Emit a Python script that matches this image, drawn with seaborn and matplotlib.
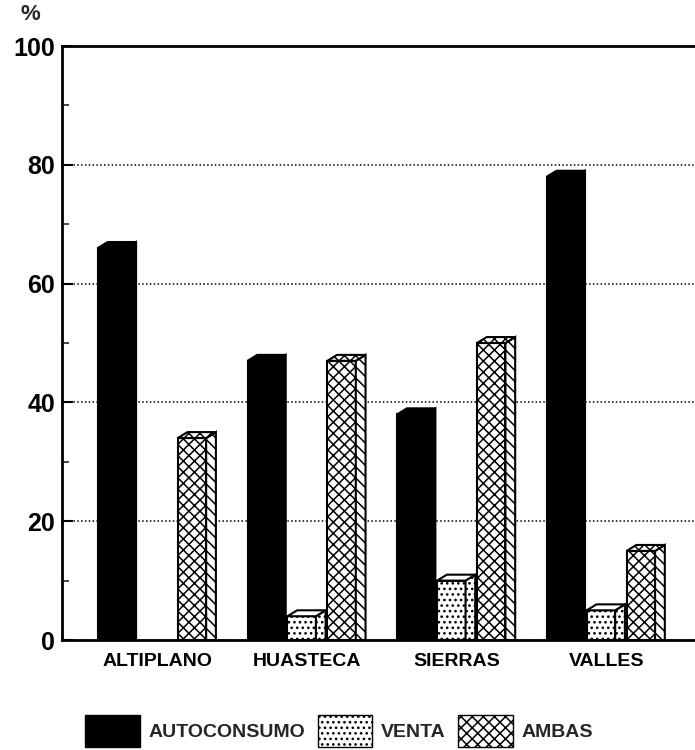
import matplotlib
matplotlib.use("Agg")
import matplotlib.pyplot as plt
import seaborn as sns
import pandas as pd
from matplotlib.patches import Polygon, Patch

regions = ["ALTIPLANO", "HUASTECA", "SIERRAS", "VALLES"]
series = ["AUTOCONSUMO", "VENTA", "AMBAS"]
autoconsumo = [66, 47, 38, 78]
venta = [0, 4, 10, 5]
ambas = [34, 47, 50, 15]
yticks = [0, 20, 40, 60, 80, 100]

sns.set_theme(style="white")
plt.rcParams["font.family"] = ["Liberation Sans", "DejaVu Sans"]
plt.rcParams["font.weight"] = "bold"
plt.rcParams["hatch.linewidth"] = 1.1
plt.rcParams["hatch.color"] = "black"

rows = []
for name, vals in zip(series, [autoconsumo, venta, ambas]):
    for r, v in zip(regions, vals):
        rows.append({"region": r, "tipo": name, "value": v})
df = pd.DataFrame(rows)

fig = plt.figure(figsize=(6.95, 7.5), dpi=100)
ax = fig.add_axes([62 / 695, 1 - 640 / 750, (695 - 62) / 695, (640 - 46) / 750])

sns.barplot(data=df, x="region", y="value", hue="tipo", order=regions,
            hue_order=series, palette=["black", "white", "white"],
            saturation=1, width=0.8, edgecolor="black", linewidth=1.5,
            legend=False, ax=ax, zorder=2)

front_hatch = [None, "...", "xxx"]
side_hatch = [None, "...", "\\\\\\"]
front_w = 0.19
dx = 0.065
dy = 1.0
for i, cont in enumerate(ax.containers):
    for bar in cont:
        h = bar.get_height()
        x0 = bar.get_x()
        bar.set_width(front_w)
        if h <= 0:
            bar.set_visible(False)
            continue
        x1 = x0 + front_w
        fc = "black" if i == 0 else "white"
        if front_hatch[i]:
            bar.set_hatch(front_hatch[i])
        side = Polygon([(x1, 0), (x1, h), (x1 + dx, h + dy), (x1 + dx, 0)],
                       closed=True, facecolor=fc, edgecolor="black", lw=1.5,
                       hatch=side_hatch[i], zorder=2)
        top = Polygon([(x0, h), (x0 + dx, h + dy), (x1 + dx, h + dy), (x1, h)],
                      closed=True, facecolor=fc, edgecolor="black", lw=1.5,
                      hatch=front_hatch[i] if i == 2 else None, zorder=2)
        ax.add_patch(side)
        ax.add_patch(top)

ax.set_xlim(-0.64, 3.59)
ax.set_ylim(0, 100)
ax.set_yticks(yticks)
ax.set_yticks([10, 30, 50, 70, 90], minor=True)
ax.set_yticklabels([str(t) for t in yticks], fontsize=18, fontweight="heavy")
ax.set_xticks(range(len(regions)))
ax.set_xticklabels(regions, fontsize=14, fontweight="heavy")
ax.tick_params(axis="y", which="major", direction="in", length=8, width=1.5,
               left=True, pad=5, colors="black")
ax.tick_params(axis="y", which="minor", direction="in", length=5, width=1.2,
               left=True)
ax.tick_params(axis="x", length=0, pad=9, colors="black")
ax.set_xlabel("")
ax.set_ylabel("")

ax.yaxis.grid(True, which="major", linestyle=(0, (1, 1.5)), color="black", lw=1.1)
ax.set_axisbelow(True)
for s in ["top", "left", "bottom"]:
    ax.spines[s].set_visible(True)
    ax.spines[s].set_color("black")
    ax.spines[s].set_linewidth(2)
ax.spines["right"].set_visible(False)

fig.text(30 / 695, 1 - 14 / 750, "%", fontsize=16, fontweight="heavy",
         ha="center", va="center")

handles = [Patch(facecolor="black", edgecolor="black"),
           Patch(facecolor="white", edgecolor="black", hatch="..."),
           Patch(facecolor="white", edgecolor="black", hatch="xxx")]
fig.legend(handles, series, loc="center", bbox_to_anchor=(339 / 695, 1 - 731 / 750),
           ncol=3, frameon=False, handlelength=2.8, handleheight=2.1,
           handletextpad=0.45, columnspacing=0.65,
           prop={"weight": "heavy", "size": 14})

fig.savefig("out.png", dpi=100)
